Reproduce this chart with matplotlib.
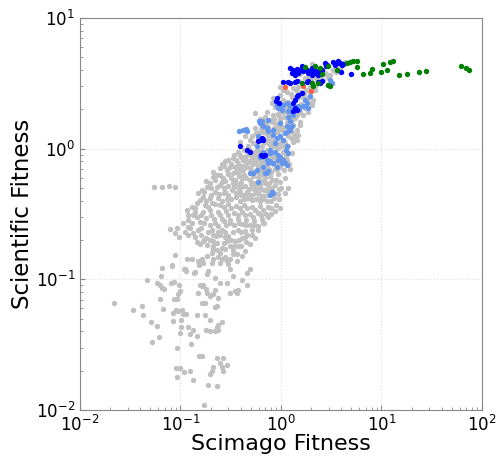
import matplotlib
matplotlib.use("Agg")
import matplotlib.pyplot as plt

# Scimago fitness (x) vs scientific fitness (y), one point per country/field

gray_pts = [
    # sparse low tail
    (0.065, 0.123), (0.082, 0.128), (0.064, 0.106), (0.046, 0.098), (0.058, 0.093),
    (0.0625, 0.091), (0.066, 0.086), (0.069, 0.085), (0.080, 0.093), (0.087, 0.095),
    (0.097, 0.090), (0.098, 0.081), (0.095, 0.077), (0.086, 0.071), (0.093, 0.071),
    (0.022, 0.066), (0.034, 0.058), (0.041, 0.062), (0.042, 0.053), (0.0625, 0.071),
    (0.067, 0.059), (0.051, 0.047), (0.059, 0.044), (0.052, 0.033), (0.061, 0.036),
    (0.084, 0.055), (0.090, 0.0586), (0.095, 0.057), (0.103, 0.058), (0.106, 0.054),
    (0.114, 0.054), (0.084, 0.048), (0.101, 0.049), (0.101, 0.043), (0.099, 0.039),
    (0.120, 0.043), (0.134, 0.041), (0.145, 0.037), (0.092, 0.030), (0.126, 0.032),
    (0.090, 0.021), (0.099, 0.021), (0.092, 0.018), (0.109, 0.0195), (0.124, 0.020),
    (0.134, 0.017), (0.153, 0.026), (0.165, 0.026), (0.171, 0.011), (0.111, 0.119),
    (0.137, 0.111), (0.153, 0.128), (0.169, 0.134), (0.189, 0.116), (0.183, 0.109),
    (0.221, 0.103), (0.247, 0.094), (0.221, 0.083), (0.180, 0.085), (0.162, 0.089),
    (0.169, 0.091), (0.156, 0.091), (0.151, 0.079), (0.183, 0.079), (0.197, 0.074),
    (0.212, 0.077), (0.238, 0.072), (0.229, 0.062), (0.221, 0.061), (0.175, 0.066),
    (0.162, 0.066), (0.145, 0.053), (0.175, 0.053), (0.197, 0.049), (0.229, 0.043),
    (0.238, 0.041), (0.221, 0.040), (0.197, 0.040), (0.180, 0.041), (0.238, 0.045),
    (0.257, 0.047), (0.288, 0.094), (0.311, 0.079), (0.349, 0.081), (0.363, 0.079),
    (0.376, 0.083), (0.336, 0.106), (0.406, 0.0995), (0.456, 0.112), (0.311, 0.119),
    (0.247, 0.134), (0.288, 0.138), (0.300, 0.130), (0.363, 0.138), (0.492, 0.119),
    (0.124, 0.038), (0.229, 0.025), (0.267, 0.025), (0.212, 0.0215), (0.247, 0.023),
    (0.257, 0.0215), (0.267, 0.020), (0.288, 0.022), (0.205, 0.020), (0.197, 0.019),
    (0.189, 0.0155), (0.229, 0.0153), (0.456, 0.091),
    # top (mostly under the coloured points)
    (2.44, 3.68), (2.74, 3.81), (3.07, 3.68), (3.29, 4.02), (3.53, 3.88), (2.93, 3.55),
    (2.62, 3.37), (2.33, 3.19), (2.23, 3.49), (1.99, 3.37), (1.73, 3.49), (1.86, 3.55),
    (2.18, 2.83), (1.94, 2.98), (1.77, 2.83), (1.59, 2.73), (1.48, 2.98), (1.32, 2.93),
    (1.15, 2.73), (1.05, 2.83), (0.98, 2.98), (4.33, 4.63), (3.86, 4.16), (2.03, 4.47),
    (1.55, 3.75), (2.20, 3.00), (2.50, 3.40), (2.80, 3.70), (1.50, 3.30), (1.25, 2.60),
    (1.40, 2.80), (1.70, 2.60), (1.95, 2.70),
    (0.98, 2.59), (1.05, 2.37), (1.17, 2.29), (1.29, 2.50), (1.48, 2.46), (1.66, 2.50),
    (1.86, 2.46), (2.03, 2.25), (2.08, 2.37), (1.81, 2.29), (0.83, 2.46), (0.81, 2.25),
    (0.87, 2.09), (0.98, 1.99), (1.15, 1.92), (1.23, 2.06), (1.44, 1.82), (1.55, 1.92),
    (1.66, 1.82), (1.86, 1.92), (2.03, 2.17), (1.38, 1.73), (1.55, 1.61), (0.73, 1.92),
    (0.69, 1.76), (0.78, 1.67), (0.83, 1.82), (0.98, 1.67), (1.15, 1.61), (0.55, 1.89),
    (0.71, 1.58), (0.93, 1.85), (1.07, 1.76), (1.29, 1.67), (0.62, 1.70), (0.89, 1.55),
    (1.73, 2.06), (0.85, 1.70), (0.95, 1.78), (1.05, 1.90), (1.12, 2.05), (1.25, 1.80),
    (1.40, 2.00), (1.60, 2.20),
    (0.74, 1.47), (0.81, 1.61), (1.05, 1.47), (0.93, 1.40), (1.32, 1.52), (1.55, 1.52),
    (1.26, 1.37), (0.66, 1.33), (0.78, 1.23), (0.91, 1.35), (0.85, 1.45), (0.98, 1.23),
    (1.10, 1.33), (1.17, 1.26), (1.38, 1.23), (1.44, 1.40), (1.48, 1.28), (1.44, 1.17),
    (1.32, 1.13), (1.17, 1.05), (1.07, 1.15), (0.98, 1.11), (0.93, 1.02), (0.83, 1.04),
    (0.71, 1.19), (0.62, 1.33), (0.69, 1.40), (0.49, 1.17), (0.53, 1.11), (0.65, 1.04),
    (0.44, 1.26), (0.55, 1.45), (0.59, 1.21), (0.69, 1.13), (0.87, 1.17), (0.47, 1.05),
    (0.39, 1.13), (0.58, 0.98), (1.23, 1.45), (0.52, 1.25), (0.57, 1.32), (0.63, 1.45),
    (0.72, 1.30), (0.80, 1.33), (0.88, 1.42), (0.95, 1.50), (1.02, 1.38), (0.74, 1.10),
    (0.80, 1.15), (0.90, 1.05), (1.02, 1.05), (1.10, 1.10), (1.25, 1.20), (1.35, 1.30),
    # dense core
    (0.73, 0.98), (0.78, 1.07), (0.87, 0.94), (0.98, 0.87), (1.15, 0.82), (1.29, 0.92),
    (0.50, 0.93), (0.46, 0.90), (0.42, 0.82), (0.37, 0.78), (0.31, 0.73), (0.26, 0.77),
    (0.29, 0.69), (0.33, 0.65), (0.39, 0.67), (0.46, 0.72), (0.53, 0.76), (0.62, 0.80),
    (0.73, 0.73), (0.83, 0.76), (0.98, 0.72), (1.07, 0.69), (1.20, 0.76), (0.39, 0.90),
    (0.33, 0.85), (0.55, 0.87), (0.65, 0.90), (0.78, 0.85), (0.89, 0.81), (0.47, 0.80),
    (0.35, 0.73), (0.59, 0.72), (0.30, 0.82), (0.43, 0.98), (1.05, 0.95), (0.69, 0.67),
    (0.93, 0.64), (0.51, 0.67),
    (0.28, 0.80), (0.32, 0.76), (0.36, 0.82), (0.41, 0.74), (0.44, 0.86), (0.49, 0.79),
    (0.52, 0.86), (0.57, 0.78), (0.61, 0.85), (0.68, 0.77), (0.71, 0.86), (0.76, 0.70),
    (0.81, 0.90), (0.88, 0.70), (0.94, 0.76), (1.02, 0.83), (0.42, 0.69), (0.49, 0.71),
    (0.55, 0.66), (0.63, 0.69), (0.37, 0.95), (0.48, 1.0), (0.54, 0.95), (0.62, 0.96),
    (0.70, 0.93), (0.25, 0.71), (0.56, 0.82), (0.67, 0.84),
    (0.34, 0.90), (0.40, 0.86), (0.45, 0.77), (0.51, 0.84), (0.58, 0.92), (0.64, 0.75),
    (0.86, 0.86), (0.92, 0.70), (0.27, 0.74), (0.38, 0.71), (0.60, 0.65), (0.80, 0.66),
    (0.21, 0.66), (0.36, 0.66), (1.12, 0.88), (1.22, 0.70),
    (0.21, 0.61), (0.265, 0.60), (0.23, 0.63), (0.35, 0.58), (0.41, 0.60), (0.49, 0.58),
    (0.59, 0.61), (0.69, 0.60), (0.81, 0.58), (0.98, 0.56), (1.10, 0.60), (0.197, 0.55),
    (0.247, 0.53), (0.30, 0.52), (0.365, 0.54), (0.44, 0.52), (0.515, 0.50), (0.62, 0.53),
    (0.74, 0.51), (0.87, 0.53), (1.0, 0.50), (0.184, 0.51), (0.164, 0.486), (0.221, 0.469),
    (0.271, 0.46), (0.326, 0.486), (0.391, 0.469), (0.47, 0.452), (0.564, 0.46),
    (0.66, 0.437), (0.778, 0.486), (0.934, 0.452), (0.149, 0.46), (0.167, 0.43),
    (0.197, 0.421), (0.236, 0.421), (0.29, 0.414), (0.357, 0.43), (0.428, 0.414),
    (0.515, 0.407), (0.618, 0.414), (0.726, 0.40), (0.852, 0.421), (1.10, 0.46),
    (1.17, 0.50), (0.055, 0.51), (0.065, 0.51), (0.077, 0.52), (0.088, 0.51),
    (0.18, 0.57), (0.22, 0.58), (0.28, 0.57), (0.32, 0.60), (0.38, 0.62), (0.45, 0.60),
    (0.54, 0.55), (0.64, 0.57), (0.76, 0.55), (0.90, 0.58), (0.20, 0.50), (0.27, 0.50),
    (0.34, 0.51), (0.40, 0.51), (0.48, 0.49), (0.58, 0.49), (0.68, 0.48), (0.82, 0.50),
    (0.95, 0.49), (0.17, 0.47), (0.24, 0.45), (0.30, 0.44), (0.36, 0.46), (0.43, 0.44),
    (0.52, 0.44), (0.61, 0.45), (0.72, 0.44), (0.85, 0.46), (0.18, 0.40), (0.26, 0.40),
    (0.32, 0.41), (0.39, 0.40), (0.47, 0.42), (0.57, 0.41), (0.67, 0.41), (0.80, 0.40),
    (0.95, 0.41), (0.25, 0.63), (0.30, 0.64), (0.43, 0.63), (0.53, 0.62), (0.63, 0.63),
    (0.78, 0.62), (0.33, 0.55), (0.40, 0.56), (0.50, 0.54), (0.57, 0.52), (0.70, 0.55),
    (0.23, 0.51), (0.26, 0.56), (0.38, 0.49), (0.46, 0.47), (0.55, 0.48), (0.64, 0.49),
    (0.20, 0.44), (0.28, 0.47), (0.40, 0.44), (0.62, 0.40), (0.75, 0.47),
    (0.156, 0.407), (0.146, 0.386), (0.130, 0.36), (0.175, 0.372), (0.206, 0.386),
    (0.247, 0.372), (0.297, 0.379), (0.357, 0.366), (0.428, 0.372), (0.515, 0.36),
    (0.618, 0.366), (0.743, 0.36), (0.892, 0.372), (0.116, 0.341), (0.139, 0.329),
    (0.167, 0.329), (0.197, 0.341), (0.236, 0.329), (0.284, 0.335), (0.341, 0.323),
    (0.409, 0.329), (0.492, 0.318), (0.59, 0.323), (0.709, 0.318), (0.133, 0.312),
    (0.119, 0.286), (0.146, 0.30), (0.156, 0.276), (0.180, 0.296), (0.216, 0.29),
    (0.259, 0.29), (0.311, 0.286), (0.373, 0.29), (0.449, 0.286), (0.539, 0.28),
    (0.647, 0.29), (0.796, 0.318), (0.87, 0.335), (0.197, 0.262), (0.236, 0.257),
    (0.284, 0.262), (0.341, 0.262), (0.409, 0.267), (0.492, 0.262), (0.59, 0.257),
    (0.106, 0.271), (0.977, 0.353), (0.66, 0.271),
    (0.14, 0.35), (0.19, 0.36), (0.22, 0.38), (0.27, 0.36), (0.32, 0.35), (0.39, 0.35),
    (0.46, 0.35), (0.55, 0.34), (0.66, 0.34), (0.80, 0.35), (0.12, 0.31), (0.16, 0.31),
    (0.20, 0.31), (0.25, 0.31), (0.30, 0.31), (0.37, 0.31), (0.44, 0.31), (0.53, 0.30),
    (0.64, 0.31), (0.75, 0.30), (0.13, 0.27), (0.17, 0.27), (0.22, 0.27), (0.27, 0.28),
    (0.31, 0.27), (0.38, 0.27), (0.45, 0.26), (0.54, 0.26), (0.68, 0.27),
    (0.111, 0.232), (0.124, 0.248), (0.133, 0.228), (0.139, 0.212), (0.149, 0.240),
    (0.16, 0.248), (0.180, 0.209), (0.197, 0.201), (0.211, 0.195), (0.226, 0.216),
    (0.236, 0.232), (0.259, 0.240), (0.373, 0.240), (0.438, 0.236), (0.515, 0.240),
    (0.409, 0.209), (0.349, 0.195), (0.30, 0.216), (0.29, 0.195), (0.259, 0.175),
    (0.231, 0.169), (0.211, 0.172), (0.247, 0.160), (0.336, 0.169), (0.365, 0.155),
    (0.278, 0.212), (0.373, 0.179), (0.449, 0.192), (0.146, 0.192), (0.156, 0.185),
    (0.167, 0.195), (0.079, 0.244), (0.088, 0.228), (0.093, 0.248), (0.097, 0.212),
    (0.119, 0.252), (0.206, 0.240), (0.552, 0.209), (0.492, 0.188), (0.311, 0.179),
    (0.184, 0.182), (0.59, 0.24), (0.44, 0.164),
    (0.12, 0.22), (0.16, 0.22), (0.19, 0.23), (0.21, 0.22), (0.25, 0.22), (0.28, 0.23),
    (0.33, 0.23), (0.40, 0.23), (0.46, 0.22), (0.52, 0.22), (0.17, 0.20), (0.23, 0.19),
    (0.27, 0.19), (0.32, 0.20), (0.38, 0.20), (0.44, 0.21), (0.21, 0.18), (0.28, 0.17),
    (0.34, 0.18), (0.40, 0.18),
    (0.184, 0.150), (0.206, 0.160), (0.211, 0.142), (0.206, 0.134), (0.236, 0.147),
    (0.259, 0.142), (0.278, 0.147), (0.311, 0.142), (0.336, 0.155), (0.409, 0.150),
    (0.116, 0.142), (0.130, 0.142), (0.149, 0.137), (0.164, 0.142), (0.108, 0.119),
    (0.114, 0.115), (0.139, 0.113), (0.088, 0.153), (0.082, 0.126),
]

lightblue_pts = [
    (0.385, 1.36), (0.422, 1.40), (0.445, 1.41), (0.604, 1.62), (0.618, 1.57), (0.748, 1.67),
    (0.977, 2.11), (1.05, 2.17), (1.14, 2.24), (1.23, 2.11), (1.49, 2.11), (1.73, 2.11),
    (1.87, 2.05), (1.18, 1.75), (1.23, 1.62), (1.28, 1.48), (0.977, 1.24), (1.05, 1.17),
    (1.14, 1.04), (1.12, 0.98), (1.18, 0.93), (0.977, 0.87), (0.94, 0.82), (1.02, 0.78),
    (0.667, 0.95), (0.778, 0.93), (0.721, 0.82), (0.748, 0.78), (0.667, 0.73), (0.709, 0.65),
    (0.573, 1.04), (0.618, 0.87), (3.07, 3.37), (3.19, 3.18), (2.96, 3.09), (0.906, 2.17),
    (0.94, 2.05), (1.02, 1.99), (1.18, 1.93), (1.28, 1.88), (1.33, 1.82), (1.52, 2.01),
    (1.67, 2.11), (1.73, 2.37), (1.80, 2.24), (1.94, 2.51), (0.643, 1.62), (0.667, 1.48),
    (0.721, 1.44), (0.748, 1.36), (0.838, 1.40), (0.977, 1.57), (1.14, 1.48), (1.23, 1.40),
    (0.871, 1.11), (0.456, 1.36), (0.594, 1.24), (0.838, 1.28), (0.906, 1.21), (1.10, 1.32),
    (1.18, 1.36), (0.778, 0.98), (0.871, 0.95), (0.94, 0.90), (1.05, 0.82), (1.10, 0.78),
    (1.14, 0.755), (0.778, 0.80), (0.838, 0.78), (0.906, 0.73), (0.81, 0.47), (0.838, 0.46),
    (0.778, 0.44), (0.53, 0.65), (0.573, 0.69), (0.492, 0.65), (0.693, 0.65), (0.748, 0.67),
    (0.594, 0.56),
]

blue_pts = [
    (1.23, 4.14), (1.33, 4.02), (1.28, 3.80), (1.38, 3.90), (1.43, 4.07), (1.49, 3.80),
    (1.38, 3.68), (1.67, 3.90), (1.73, 4.14), (1.80, 4.02), (1.87, 3.80), (1.94, 3.90),
    (2.02, 3.68), (2.10, 4.02), (2.18, 3.80), (2.27, 3.90), (2.35, 3.68), (2.44, 3.80),
    (2.02, 4.14), (2.54, 4.02), (2.74, 4.53), (2.85, 4.39), (2.79, 4.26), (3.31, 4.57),
    (3.45, 4.39), (3.58, 4.53), (3.86, 4.53), (4.02, 4.39), (3.72, 4.65), (4.17, 4.47),
    (1.55, 4.02), (1.61, 4.26), (3.95, 3.84), (4.94, 3.75),
    (1.05, 3.22), (1.18, 3.22), (1.23, 3.18), (1.38, 3.22), (1.43, 3.27), (1.80, 3.22),
    (1.87, 3.27), (2.35, 3.22), (2.44, 3.18), (2.54, 3.27),
    (1.43, 2.51), (1.49, 2.59), (1.61, 2.67), (1.38, 2.37), (1.33, 2.24), (1.38, 2.05),
    (1.43, 1.99), (1.33, 1.93), (0.906, 2.44), (0.891, 2.30), (0.962, 2.24), (0.643, 1.21),
    (0.667, 1.17), (0.391, 1.04), (0.456, 0.97), (0.492, 0.94), (0.632, 0.90), (0.667, 0.88),
    (0.70, 0.90), (0.594, 1.14), (0.628, 1.17),
]

red_pts = [(1.10, 2.98), (1.66, 3.01), (1.97, 2.78)]

green_pts = [
    (5.66, 4.19), (7.99, 4.07), (6.50, 3.73), (7.69, 3.80), (10.4, 4.45), (12.2, 4.57),
    (13.1, 4.65), (10.0, 3.88), (11.3, 4.0), (14.9, 3.68), (17.8, 3.75), (23.4, 3.86),
    (27.9, 3.95), (61.4, 4.29), (68.8, 4.14), (74.8, 4.02), (4.51, 4.53), (4.86, 4.60),
    (5.24, 4.71), (5.74, 4.65), (1.73, 4.22), (2.18, 4.26), (2.44, 4.14), (2.96, 4.32),
    (2.54, 3.75), (3.58, 3.97), (1.61, 3.18), (2.02, 3.18), (2.10, 3.0), (2.35, 3.18),
    (2.96, 3.09), (3.07, 3.03),
]

groups = [
    (gray_pts, "silver"),
    (lightblue_pts, "cornflowerblue"),
    (blue_pts, "blue"),
    (red_pts, "tomato"),
    (green_pts, "green"),
]

fig = plt.figure(figsize=(4.98, 4.57), dpi=100)
ax = fig.add_axes([0.1606, 0.1028, 0.8072, 0.8578])

for pts, color in groups:
    xs, ys = zip(*pts)
    ax.scatter(xs, ys, s=15, c=color, linewidths=0)

ax.set_xscale("log")
ax.set_yscale("log")
ax.set_xlim(1e-2, 1e2)
ax.set_ylim(1e-2, 1e1)
ax.grid(True, which="major", linestyle=":", color="#dddddd", linewidth=0.8)
ax.set_axisbelow(True)

for sp in ax.spines.values():
    sp.set_color("#888888")
ax.tick_params(which="both", direction="in", color="#888888", labelsize=12)
ax.set_xlabel("Scimago Fitness", fontsize=16, labelpad=-1)
ax.set_ylabel("Scientific Fitness", fontsize=16.5, labelpad=1)

plt.savefig("out.png", dpi=100)
